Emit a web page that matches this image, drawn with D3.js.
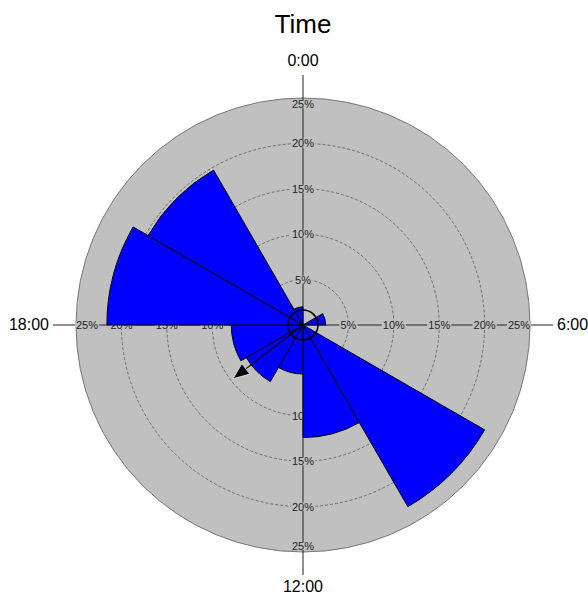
<!DOCTYPE html>
<html>
<head>
<meta charset="utf-8">
<script src="https://cdn.jsdelivr.net/npm/d3@7"></script>
<style>
	body { margin: 0; background: #fff; }
	text { font-family: "Liberation Sans", Arial, sans-serif; }
</style>
</head>
<body>
<svg id="chart"></svg>
<script>
// sector start hours (each sector is 2 hours wide)
const sectorHours = [0, 2, 4, 6, 8, 10, 12, 14, 16, 18, 20, 22];
// percentage of observations in each sector
const sectorPercents = [0, 0, 2.5, 0, 23.1, 12.4, 5.4, 7.2, 7.9, 21.6, 19.7, 2.0];
const ringTicks = [5, 10, 15, 20, 25];
const axisHours = [0, 6, 12, 18];
const axisLabels = ["0:00", "6:00", "12:00", "18:00"];
// mean vector (hour of day, length in %)
const meanHour = 15.5;
const meanLength = 9.7;
const calmPercent = 1.65;

let w = 588, h = 594;
let cx = 303, cy = 325;
let R = 227;

let chart = d3.select('#chart')
	.attr('width', w)
	.attr('height', h);

let rScale = d3.scaleLinear().domain([0, 25]).range([0, R]);
let aScale = d3.scaleLinear().domain([0, 24]).range([0, 2 * Math.PI]);

// title
chart.append('text')
	.attr('x', cx)
	.attr('y', 33)
	.attr('text-anchor', 'middle')
	.style('font-size', '26px')
	.text('Time');

let g = chart.append('g').attr('transform', `translate(${cx},${cy})`);

// background disc
g.append('circle')
	.attr('r', rScale(25))
	.attr('fill', '#c0c0c0')
	.attr('stroke', '#777')
	.attr('stroke-width', 1);

// dashed rings
g.selectAll('.ring')
	.data(ringTicks.filter(d => d < 25))
	.enter()
	.append('circle')
	.attr('class', 'ring')
	.attr('r', d => rScale(d))
	.attr('fill', 'none')
	.attr('stroke', '#555')
	.attr('stroke-width', 0.8)
	.attr('stroke-dasharray', '3,2');

// axis lines
let ext = 250;
axisHours.forEach(hr => {
	let a = aScale(hr);
	g.append('line')
		.attr('x1', 0).attr('y1', 0)
		.attr('x2', ext * Math.sin(a))
		.attr('y2', -ext * Math.cos(a))
		.attr('stroke', '#222')
		.attr('stroke-width', 1);
});

// percent labels along each axis
axisHours.forEach(hr => {
	let a = aScale(hr);
	ringTicks.forEach(t => {
		let r = rScale(t);
		if (t === 25) r -= (hr % 12 === 0) ? 6 : 11;
		let x = r * Math.sin(a), y = -r * Math.cos(a);
		let lg = g.append('g');
		let txt = lg.append('text')
			.attr('x', x)
			.attr('y', y)
			.attr('text-anchor', 'middle')
			.attr('dominant-baseline', 'central')
			.style('font-size', '11px')
			.attr('fill', '#222')
			.text(t + '%');
		let bb = txt.node().getBBox();
		lg.insert('rect', 'text')
			.attr('x', bb.x - 1)
			.attr('y', bb.y + 2)
			.attr('width', bb.width + 2)
			.attr('height', bb.height - 4)
			.attr('fill', '#c0c0c0');
	});
});

// sectors
let arc = d3.arc()
	.innerRadius(0)
	.outerRadius(d => rScale(d.v))
	.startAngle(d => aScale(d.h))
	.endAngle(d => aScale(d.h + 2));

g.selectAll('.sector')
	.data(sectorHours.map((hr, i) => ({ h: hr, v: sectorPercents[i] })).filter(d => d.v > 0))
	.enter()
	.append('path')
	.attr('class', 'sector')
	.attr('d', arc)
	.attr('fill', '#0000ff')
	.attr('stroke', '#000')
	.attr('stroke-width', 1)
	.attr('stroke-linejoin', 'miter');

// calm circle
g.append('circle')
	.attr('r', rScale(calmPercent))
	.attr('fill', 'none')
	.attr('stroke', '#000')
	.attr('stroke-width', 1.6);

// mean vector arrow
let ma = aScale(meanHour);
let ml = rScale(meanLength);
let ux = Math.sin(ma), uy = -Math.cos(ma);
let px = -uy, py = ux;
let headLen = 16, headW = 6.5;
let bx = (ml - headLen) * ux, by = (ml - headLen) * uy;
g.append('line')
	.attr('x1', 0).attr('y1', 0)
	.attr('x2', bx).attr('y2', by)
	.attr('stroke', '#000')
	.attr('stroke-width', 1.2);
g.append('path')
	.attr('d', `M${ml * ux},${ml * uy}L${bx + headW * px},${by + headW * py}L${bx - headW * px},${by - headW * py}Z`)
	.attr('fill', '#000')
	.attr('stroke', '#fff')
	.attr('stroke-width', 0.6);

// direction labels
let labelPos = [
	{ x: cx, y: 66, anchor: 'middle' },
	{ x: 557, y: 330, anchor: 'start' },
	{ x: cx, y: 592, anchor: 'middle' },
	{ x: 49, y: 330, anchor: 'end' }
];
chart.selectAll('.dir')
	.data(axisLabels)
	.enter()
	.append('text')
	.attr('class', 'dir')
	.attr('x', (d, i) => labelPos[i].x)
	.attr('y', (d, i) => labelPos[i].y)
	.attr('text-anchor', (d, i) => labelPos[i].anchor)
	.style('font-size', '16px')
	.text(d => d);
</script>
</body>
</html>
